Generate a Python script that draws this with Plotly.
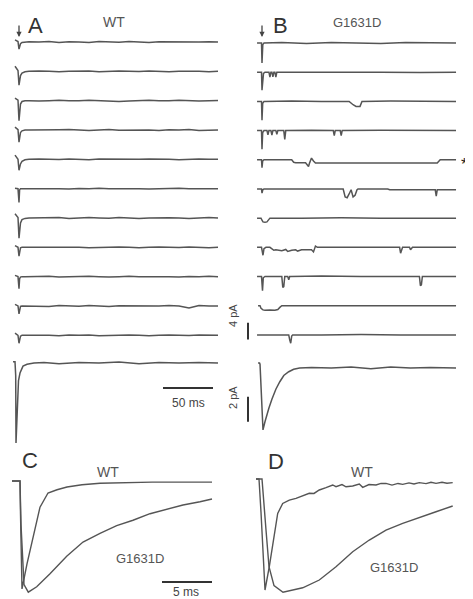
import plotly.graph_objects as go

# ---------------- DATA ----------------
# Panel A: WT single-channel sweeps (time in ms, current in pA), shared time grid
A_t = [-4, -2.5, -1, 0, 0.6, 1.5, 3, 6, 10, 20, 30, 40, 50, 60, 70, 80, 90, 100,
       110, 120, 130, 140, 150, 160, 170, 180, 190, 199]
A01 = [0.5, 0.3, 0.1, -1.7, -0.9, -0.4, -0.1, 0, 0.05, 0, 0.1, -0.1, 0.05, 0, -0.1, 0.1, 0, -0.05, 0.1, 0, -0.1, 0.05, 0, 0.1, -0.05, 0, 0.05, 0]
A02 = [1.2, 0.7, 0.2, -3.3, -2.0, -1.0, -0.4, -0.1, 0, 0.1, 0, -0.1, 0, 0.1, 0.05, -0.1, 0, 0.1, 0, -0.05, 0.1, 0, -0.1, 0, 0.05, 0, -0.1, 0]
A03 = [0.6, 0.4, 0.1, -4.8, -2.2, -0.8, -0.2, 0, 0, -0.1, 0, 0.1, 0, -0.05, 0.1, 0, -0.1, -0.2, -0.1, 0, 0.1, 0, -0.05, 0.1, 0, -0.1, 0, 0.05]
A04 = [0.7, 0.4, 0.1, -2.9, -1.5, -0.6, -0.2, 0, 0, 0, -0.1, 0.05, 0.1, 0, -0.1, 0, 0.1, -0.05, 0, 0.1, 0, -0.1, 0.05, 0, 0.1, -0.1, 0, 0]
A05 = [1.0, 0.6, 0.0, -2.6, -1.9, -1.1, -0.5, -0.1, 0, 0.1, 0, -0.05, 0.1, 0, -0.1, 0.05, 0, 0.1, -0.1, 0, 0.05, 0.1, 0, -0.1, 0, 0.1, 0, 0]
A06 = [0.1, 0, 0, -3.3, -0.3, 0, 0, 0, 0.05, 0, 0.1, 0, -0.1, 0.05, 0, 0.1, -0.05, 0, 0.1, 0, -0.1, 0, 0.05, 0.1, 0, -0.05, 0, 0]
A07 = [1.0, 0.6, 0.1, -4.8, -2.6, -1.2, -0.4, -0.1, 0, 0.05, 0, 0.1, -0.1, 0, 0.1, 0, -0.05, 0.1, 0, -0.1, 0, 0.1, 0.05, 0, -0.1, 0, 0.1, 0]
A08 = [0.4, 0.2, 0, -2.1, -0.6, -0.1, 0, 0, 0, 0.1, -0.05, 0, 0.1, 0, -0.1, 0, 0.05, 0.1, 0, -0.1, 0, 0.1, 0, -0.05, 0.1, 0, -0.1, 0]
A09 = [0.3, 0.2, 0, -2.9, -0.5, -0.1, 0, 0, 0, 0, 0.1, -0.1, 0, 0.05, 0.1, 0, -0.1, 0, 0.1, -0.05, 0, 0.1, 0, -0.1, 0.05, 0, 0.1, 0]
A10 = [0.4, 0.2, 0, -1.9, -0.5, -0.1, 0, 0, 0.05, 0, -0.1, 0.1, 0, -0.05, 0.1, 0, -0.1, 0.05, 0, 0.1, -0.1, 0, 0.1, 0, -0.5, 0.1, 0, 0]
A11 = [0.5, 0.3, 0, -1.9, -0.7, -0.2, 0, 0, 0, 0.1, 0, -0.1, 0.05, 0, 0.1, -0.1, 0, 0.05, 0.1, 0, -0.1, 0, 0.1, 0, -0.05, 0.1, 0, 0]

# Panel A: WT ensemble average (pA)
Aavg_t = [-6, -4, -3.3, -3, -2.3, -1.5, -0.5, 1, 4, 8, 15, 25, 40, 60, 80, 100, 120, 140, 160, 180, 199]
Aavg_i = [0.1, 0.1, -1.0, -6.4, -5.0, -2.8, -1.4, -0.8, -0.25, -0.1, 0, 0.05, -0.05, 0.05, 0, 0.08, -0.05, 0.05, 0, 0.05, 0]

# Panel B: G1631D single-channel sweeps (each with its own time points)
B01_t = [-5, -0.5, 0, 0.8, 2, 20, 45, 70, 95, 120, 145, 170, 196]
B01_i = [0, 0, -4.8, -0.4, 0, 0.1, -0.1, 0.1, 0, -0.1, 0.1, 0, 0]
B02_t = [-5, -0.5, 0, 0.7, 1.5, 3, 7, 8, 9, 10, 11, 12, 13, 14, 15, 16, 40, 80, 120, 160, 196]
B02_i = [0, 0, -4.3, -1.5, -0.3, 0, 0, -1.2, 0, 0, -1.1, 0, 0, -1.2, 0, 0, 0, 0.1, 0, -0.1, 0]
B03_t = [-5, -0.5, 0, 0.7, 2, 30, 60, 88, 92, 95, 99, 101, 130, 160, 196]
B03_i = [0, 0, -4.5, -0.5, 0, 0.1, 0, 0, -0.8, -1.2, -1.2, 0, 0.1, 0, 0]
B04_t = [-5, -0.5, 0, 0.7, 2, 5, 6, 7, 9, 10, 11, 14, 15, 16, 22, 23, 24, 50, 72, 73, 74, 79, 80, 81, 120, 160, 196]
B04_i = [0, 0, -4.5, -0.5, 0, 0, -1.0, 0, 0, -1.1, 0, 0, -0.9, 0, 0, -2.1, 0, 0.1, 0, -1.2, 0, 0, -1.2, 0, 0.1, 0, 0]
B05_t = [-5, -0.5, 0, 0.7, 2, 30, 32, 34, 44, 46, 47, 48, 50, 52, 54, 100, 150, 177, 180, 196]
B05_i = [0, 0, -1.9, -0.3, 0, 0, -0.6, -0.7, -0.7, -1.5, -1.6, -0.8, 0.4, -0.3, -0.8, -0.8, -0.8, -0.8, 0, 0]
B06_t = [-5, -0.5, 0, 0.8, 2, 40, 82, 84, 86, 88, 90, 92, 94, 96, 97, 127, 129, 175, 176, 177, 196]
B06_i = [0, 0, -1.0, -0.2, 0, 0, 0, -1.9, -2.1, -1.2, -0.2, -1.9, -1.5, -0.2, 0, 0, -0.2, -0.2, -1.7, -0.2, -0.2]
B07_t = [-5, -1, 0, 1, 3, 5, 7, 8, 40, 80, 120, 160, 196]
B07_i = [0, 0, -0.5, -0.9, -1.0, -0.9, -0.3, 0, 0, 0.1, 0, 0, 0]
B08_t = [-5, -0.5, 1, 2, 4, 8, 12, 14, 20, 24, 26, 30, 34, 36, 40, 46, 50, 52, 54, 56, 58, 100, 139, 140, 142, 149, 150, 152, 196]
B08_i = [0, 0, -1.9, -0.3, 0, 0, -0.7, -0.6, -0.8, -0.5, -1.0, -0.7, -0.6, -0.9, -0.6, -0.7, -0.6, -1.1, 0.3, 0, 0, 0, 0, -1.4, 0, 0, -0.6, 0, 0]
B09_t = [-5, -0.5, 0.5, 1.3, 3, 20, 21, 22, 23, 26, 27, 28, 29, 60, 100, 159, 160, 161, 162, 196]
B09_i = [0, 0, -3.4, -0.3, 0, 0, -2.6, -2.4, 0, 0, -0.8, 0, 0, 0.1, 0, 0, -2.2, -2.0, 0, 0]
B10_t = [-4, -2, -1, 1, 3, 8, 13, 16, 18, 20, 40, 80, 120, 160, 196]
B10_i = [0, 0, -0.6, -1.0, -1.1, -1.0, -1.1, -0.9, -0.4, 0, 0, 0, 0.1, 0, 0]
B11_t = [-5, 27, 28, 29, 30, 31, 60, 100, 140, 196]
B11_i = [0, 0, -1.2, -2.0, -0.3, 0, 0, 0.1, 0, 0]

# Panel B: G1631D ensemble average (pA)
Bavg_t = [-4, -2.5, -2, 1, 3, 5, 7, 10, 14, 18, 22, 27, 32, 38, 50, 70, 90, 110, 130, 150, 170, 196]
Bavg_i = [0.4, 0.4, 0.3, -4.95, -4.3, -3.7, -3.2, -2.5, -1.7, -1.1, -0.6, -0.3, -0.1, 0, 0.05, 0, 0.08, -0.05, 0.08, 0, 0.05, 0]

# Panel C: normalised averages (ms, normalised current)
C_wt_t = [0, 0.8, 0.85, 1.0, 1.5, 2.1, 2.8, 3.6, 4.5, 5.5, 7, 8.8, 11, 14, 17, 20]
C_wt_i = [0, 0, -0.3, -0.99, -0.76, -0.51, -0.24, -0.11, -0.08, -0.055, -0.035, -0.02, -0.015, -0.01, -0.01, -0.01]
C_g_t = [0, 0.8, 0.9, 1.2, 1.63, 2.47, 3.8, 5.47, 7.1, 8.8, 10.47, 12.1, 13.8, 15.5, 17.1, 18.8, 20]
C_g_i = [0, 0, -0.4, -0.95, -1.02, -0.97, -0.85, -0.69, -0.56, -0.48, -0.41, -0.36, -0.30, -0.26, -0.22, -0.19, -0.165]

# Panel D: normalised averages
D_wt_t = [0, 0.3, 0.5, 0.9, 1.33, 1.83, 2.17, 2.67, 3.33, 4.0, 4.67, 5.33, 5.8, 6.33, 7.0, 7.67,
          8.0, 8.6, 9.0, 9.67, 10.33, 10.67, 11.3, 12.0, 12.5, 13.0, 13.6, 14.2, 14.67, 15.3,
          15.8, 16.33, 17.0, 17.5, 18.0, 18.6, 19.1, 19.67]
D_wt_i = [0, 0, -0.3, -1.0, -0.79, -0.49, -0.31, -0.22, -0.19, -0.174, -0.153, -0.129, -0.13, -0.099,
          -0.078, -0.054, -0.069, -0.05, -0.07, -0.063, -0.045, -0.075, -0.05, -0.054, -0.04, -0.039,
          -0.055, -0.04, -0.048, -0.035, -0.045, -0.033, -0.042, -0.03, -0.039, -0.03, -0.038, -0.033]
D_g_t = [0, 0.3, 0.6, 1.0, 1.3, 1.8, 2.7, 4.67, 6.33, 8.0, 9.67, 11.33, 13.0, 14.67, 16.33, 18.0, 19.67]
D_g_i = [0, 0, 0, -0.46, -0.79, -0.96, -1.02, -0.98, -0.91, -0.79, -0.655, -0.55, -0.46, -0.40, -0.345, -0.295, -0.243]

A_SWEEPS = [A01, A02, A03, A04, A05, A06, A07, A08, A09, A10, A11]
B_SWEEPS = [(B01_t, B01_i), (B02_t, B02_i), (B03_t, B03_i), (B04_t, B04_i), (B05_t, B05_i),
            (B06_t, B06_i), (B07_t, B07_i), (B08_t, B08_i), (B09_t, B09_i), (B10_t, B10_i),
            (B11_t, B11_i)]
for s in A_SWEEPS:
    assert len(s) == len(A_t)
for t, i in B_SWEEPS:
    assert len(t) == len(i)

# ---------------- LAYOUT / STYLE ----------------
WIN_W, WIN_H = 473, 599
OFF = 8                       # default page margin around the plot div
W, H = WIN_W - OFF, WIN_H - OFF
SWEEP_STEP = 7.0              # pA between stacked sweeps
TRACE = "#555555"
INK = "#333333"
FONT = "Liberation Sans, Arial, sans-serif"

fig = go.Figure()


def fx(x):
    return (x - OFF) / W


def fy(y):
    return 1 - (y - OFF) / H


def axes(n, xdom_px, x0_px, xscale, ydom_px, y0_px, yscale):
    """Axis pair n placed at a window-pixel box; x0_px/y0_px is where data 0 sits."""
    xr = [(xdom_px[0] - x0_px) / xscale, (xdom_px[1] - x0_px) / xscale]
    yr = [-(ydom_px[1] - y0_px) / yscale, -(ydom_px[0] - y0_px) / yscale]
    sfx = "" if n == 1 else str(n)
    common = dict(visible=False, showgrid=False, zeroline=False, fixedrange=True)
    fig.layout["xaxis" + sfx] = dict(domain=[fx(xdom_px[0]), fx(xdom_px[1])], range=xr,
                                     anchor="y" + sfx, **common)
    fig.layout["yaxis" + sfx] = dict(domain=[fy(ydom_px[1]), fy(ydom_px[0])], range=yr,
                                     anchor="x" + sfx, **common)


def line(t, i, n, color=TRACE, width=1.5):
    sfx = "" if n == 1 else str(n)
    fig.add_trace(go.Scatter(x=t, y=i, xaxis="x" + sfx, yaxis="y" + sfx, mode="lines",
                             line=dict(color=color, width=width), hoverinfo="skip",
                             showlegend=False))


# axis boxes (window pixels)
axes(1, (12, 220), 19, 1.0, (26, 350), 42, 4.19)       # A sweeps
axes(2, (12, 220), 19, 1.0, (350, 452), 363, 12.5)     # A average
axes(3, (255, 460), 262, 0.99, (26, 350), 43, 4.17)    # B sweeps
axes(4, (255, 460), 262, 0.99, (350, 440), 368, 12.5)  # B average
axes(5, (9, 218), 12, 10.0, (468, 598), 481, 109.0)    # C
axes(6, (252, 458), 256, 10.0, (468, 598), 479, 111.0) # D

for k, s in enumerate(A_SWEEPS):
    line(A_t, [v - k * SWEEP_STEP for v in s], 1)
line(Aavg_t, Aavg_i, 2)
for k, (t, i) in enumerate(B_SWEEPS):
    line(t, [v - k * SWEEP_STEP for v in i], 3)
line(Bavg_t, Bavg_i, 4)
line(C_wt_t, C_wt_i, 5, width=1.4)
line(C_g_t, C_g_i, 5, width=1.4)
line(D_wt_t, D_wt_i, 6, width=1.4)
line(D_g_t, D_g_i, 6, width=1.4)

ann = []


def label(text, x, y, size, color=INK, angle=0, xanchor="center"):
    ann.append(dict(text=text, x=fx(x), y=fy(y), xref="paper", yref="paper", showarrow=False,
                    xanchor=xanchor, yanchor="middle", textangle=angle,
                    font=dict(family=FONT, size=size, color=color)))


label("A", 35, 25, 22)
label("B", 280, 25, 22)
label("C", 30, 460, 22)
label("D", 276, 461, 22)
label("WT", 114, 22, 14, "#555")
label("G1631D", 357, 23, 13, "#555")
label("WT", 108, 472, 14, "#555")
label("G1631D", 140, 558, 13, "#555")
label("WT", 362, 472, 14, "#555")
label("G1631D", 394, 567, 13, "#555")
label("50 ms", 188, 403, 12, "#444")
label("5 ms", 186, 592, 12, "#444")
label("4 pA", 233, 316, 11, "#444", -90)
label("2 pA", 233, 398, 11, "#444", -90)
label("*", 464, 164, 17, "#222")

for ax_px in (19, 262):
    ann.append(dict(text="", x=fx(ax_px), y=fy(37), xref="paper", yref="paper", showarrow=True,
                    ax=0, ay=-13, arrowhead=2, arrowsize=0.8, arrowwidth=1.3,
                    arrowcolor="#444"))

shapes = [
    # 50 ms bar (A time axis)
    dict(type="line", xref="x", yref="paper", x0=144, x1=194, y0=fy(388), y1=fy(388),
         line=dict(color=INK, width=2)),
    # 5 ms bar (C time axis)
    dict(type="line", xref="x5", yref="paper", x0=15, x1=20, y0=fy(582), y1=fy(582),
         line=dict(color=INK, width=2)),
    # 4 pA bar (single-sweep current axis)
    dict(type="line", xref="paper", yref="y", x0=fx(248), x1=fx(248), y0=-67, y1=-71,
         line=dict(color=INK, width=2)),
    # 2 pA bar (average current axis)
    dict(type="line", xref="paper", yref="y2", x0=fx(248), x1=fx(248), y0=-2.7, y1=-4.7,
         line=dict(color=INK, width=2)),
]

fig.update_layout(width=W, height=H, margin=dict(l=0, r=0, t=0, b=0),
                  paper_bgcolor="white", plot_bgcolor="rgba(0,0,0,0)",
                  annotations=ann, shapes=shapes, showlegend=False)

fig.write_html("out.html")
